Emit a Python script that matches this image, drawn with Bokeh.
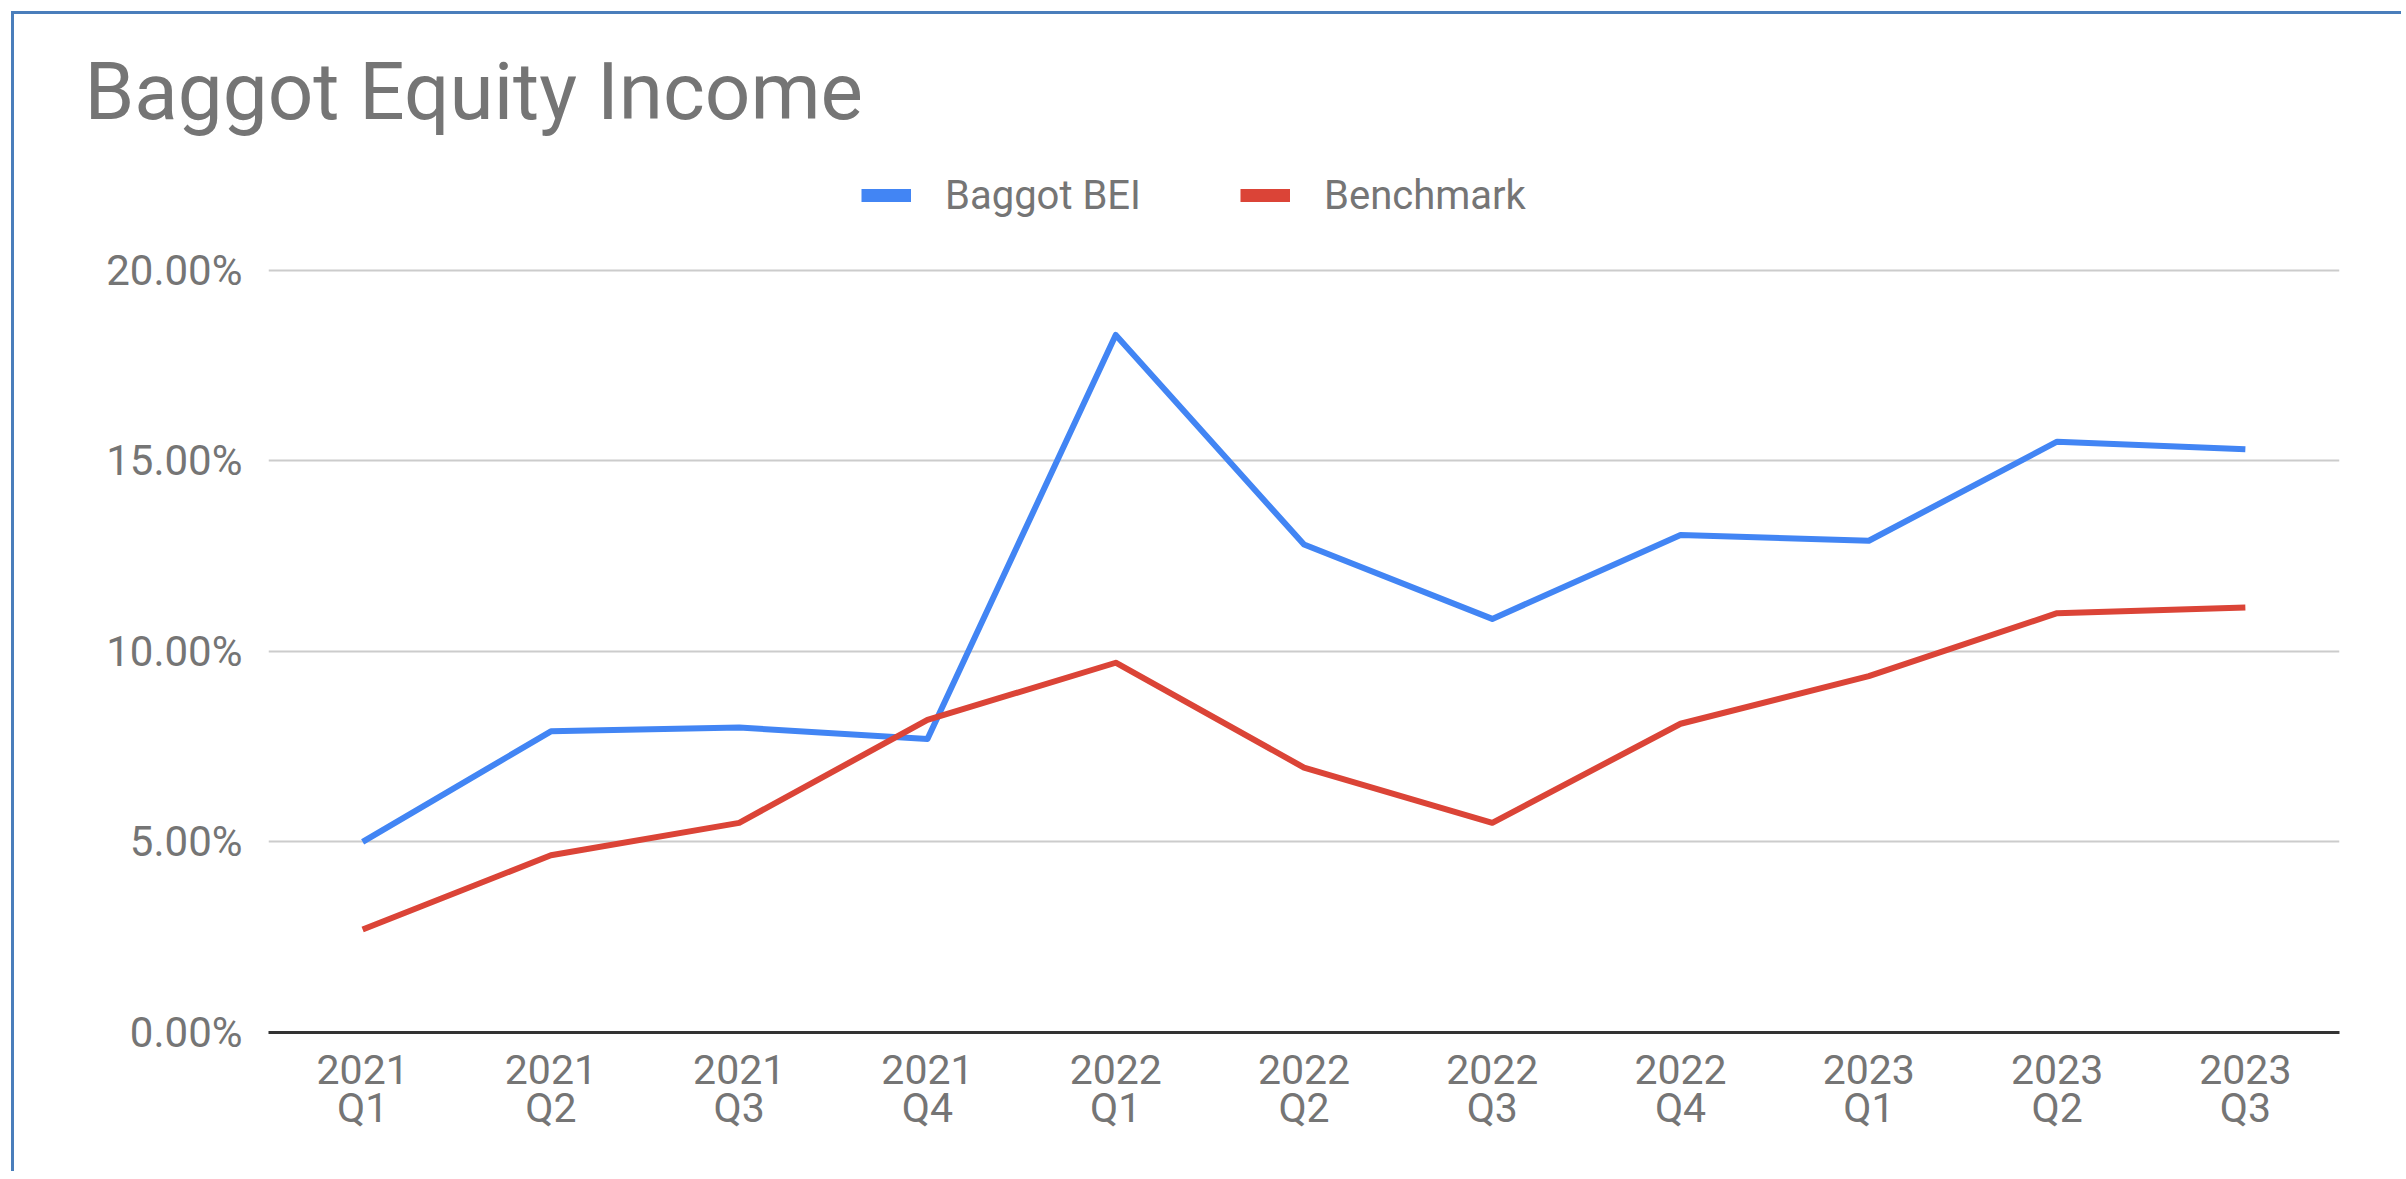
from bokeh.plotting import figure
from bokeh.models import (Legend, LegendItem, NumeralTickFormatter, FixedTicker,
                          Range1d, LinearAxis)
from bokeh.embed import file_html
from bokeh.resources import INLINE

# ---- data ----
quarters = ["2021 Q1", "2021 Q2", "2021 Q3", "2021 Q4",
            "2022 Q1", "2022 Q2", "2022 Q3", "2022 Q4",
            "2023 Q1", "2023 Q2", "2023 Q3"]
baggot_bei = [0.0500, 0.0790, 0.0800, 0.0770, 0.1830, 0.1280,
              0.1085, 0.1305, 0.1290, 0.1550, 0.1530]
benchmark = [0.0270, 0.0465, 0.0550, 0.0820, 0.0970, 0.0695,
             0.0550, 0.0810, 0.0935, 0.1100, 0.1115]
y_ticks = [0.0, 0.05, 0.10, 0.15, 0.20]
series_names = ["Baggot BEI", "Benchmark"]
colors = ["#4285f4", "#db4437"]
chart_title = "Baggot Equity Income"

idx = list(range(len(quarters)))
year_labels = {i: q.split(" ")[0] for i, q in zip(idx, quarters)}
quarter_labels = {i: q.split(" ")[1] for i, q in zip(idx, quarters)}

FONT = "Roboto"
GRAY = "#757575"

# layout (pixels): frame top/bottom and where 20% should sit
FRAME_TOP, FRAME_BOTTOM, Y20 = 167.0, 1032.0, 270.5
y_end = 0.20 * (FRAME_BOTTOM - FRAME_TOP) / (FRAME_BOTTOM - Y20)

p = figure(x_range=Range1d(-0.5, len(quarters) - 0.5), y_range=Range1d(0, y_end),
           width=2390, height=1160, title=chart_title,
           output_backend="svg", toolbar_location=None,
           min_border_left=254, min_border_right=65,
           min_border_top=0, min_border_bottom=142)
p.styles = {"border-left": "3px solid #4a7ebb", "border-top": "3px solid #4a7ebb",
            "margin-left": "11px", "margin-top": "11px"}
p.outline_line_color = None
p.background_fill_color = "white"
p.border_fill_color = "white"

# title
p.title.text_font = FONT
p.title.text_font_size = "80px"
p.title.text_font_style = "normal"
p.title.text_color = GRAY
p.title.align = "left"
p.title.offset = -184
p.title.standoff = 56

r1 = p.line(idx, baggot_bei, line_color=colors[0], line_width=6, line_join="round")
r2 = p.line(idx, benchmark, line_color=colors[1], line_width=6, line_join="round")

# legend swatches (single-point lines draw nothing in the plot)
d1 = p.line(idx[:1], baggot_bei[:1], line_color=colors[0], line_width=13, line_cap="butt")
d2 = p.line(idx[:1], benchmark[:1], line_color=colors[1], line_width=13, line_cap="butt")

legend = Legend(items=[LegendItem(label=series_names[0], renderers=[d1]),
                       LegendItem(label=series_names[1], renderers=[d2])],
                location=(593, 812), orientation="horizontal",
                glyph_width=50, glyph_height=50, label_height=50,
                label_width=230, label_standoff=34, spacing=65,
                padding=0, margin=0, border_line_color=None,
                background_fill_alpha=0,
                label_text_font=FONT, label_text_font_size="40px",
                label_text_color=GRAY)
p.add_layout(legend, "center")

# y axis
p.yaxis.ticker = FixedTicker(ticks=y_ticks)
p.yaxis.formatter = NumeralTickFormatter(format="0.00%")
p.yaxis.axis_line_color = None
p.yaxis.major_tick_line_color = None
p.yaxis.major_tick_out = 0
p.yaxis.minor_tick_line_color = None
p.yaxis.major_label_text_font = FONT
p.yaxis.major_label_text_font_size = "42px"
p.yaxis.major_label_text_color = GRAY
p.yaxis.major_label_standoff = 26

# x axis: year line, then quarter line below
ax1 = p.xaxis[0]
ax1.ticker = FixedTicker(ticks=idx)
ax1.major_label_overrides = year_labels
ax1.axis_line_color = "#333333"
ax1.axis_line_width = 3
ax1.major_tick_line_color = None
ax1.major_tick_out = 0
ax1.minor_tick_line_color = None
ax1.major_label_text_font = FONT
ax1.major_label_text_font_size = "41px"
ax1.major_label_text_color = GRAY
ax1.major_label_standoff = 22

ax2 = LinearAxis(ticker=FixedTicker(ticks=idx), major_label_overrides=quarter_labels)
ax2.axis_line_color = None
ax2.major_tick_line_color = None
ax2.major_tick_out = 0
ax2.major_tick_in = 0
ax2.minor_tick_line_color = None
ax2.major_label_text_font = FONT
ax2.major_label_text_font_size = "41px"
ax2.major_label_text_color = GRAY
ax2.major_label_standoff = -3
p.add_layout(ax2, "below")

p.xgrid.grid_line_color = None
p.ygrid.ticker = FixedTicker(ticks=y_ticks)
p.ygrid.grid_line_color = "#cccccc"
p.ygrid.grid_line_width = 2

open("out.html", "w").write(file_html(p, INLINE))
